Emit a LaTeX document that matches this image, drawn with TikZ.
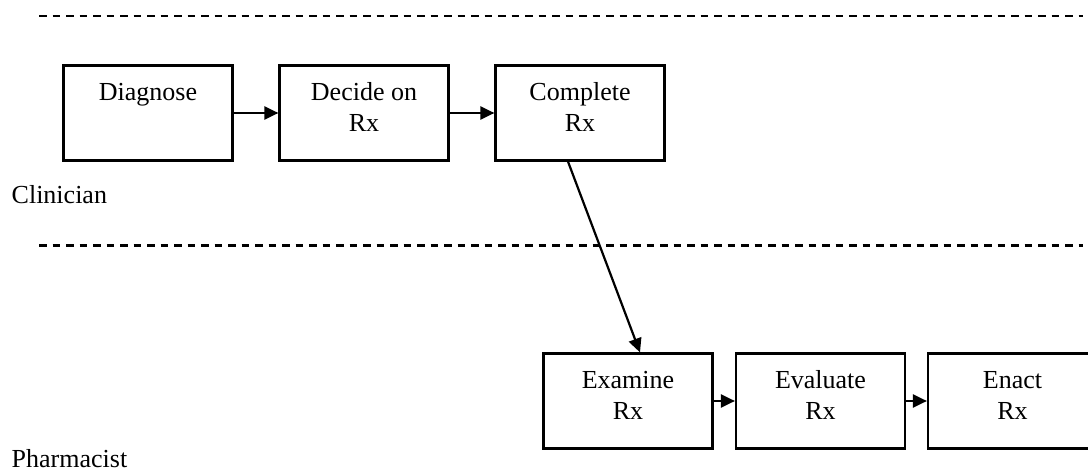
\documentclass[tikz,border=0pt]{standalone}
\usepackage{fontspec}
\setmainfont{Liberation Serif}
\usetikzlibrary{arrows.meta}
% fixed height for the first text line in every step box
\newcommand\stepstrut{\rule{0pt}{18pt}}
\begin{document}
\begin{tikzpicture}[x=1pt,y=-1pt,
  stepbox/.style={draw, line width=2.2pt, minimum width=169pt, minimum height=95pt, inner sep=0pt},
  steptext/.style={anchor=north, inner sep=0pt, align=center, font=\fontsize{26}{31}\selectfont},
  lanelabel/.style={anchor=base west, inner sep=0pt, font=\fontsize{26}{31}\selectfont},
  lane/.style={line width=2.2pt, dash pattern=on 7.5pt off 6pt},
  flow/.style={line width=2.2pt, -{Triangle[length=14pt,width=13pt]}}]
\useasboundingbox (0,0) rectangle (1088,468);
\clip (0,0) rectangle (1088,468);

% swimlane separators
\coordinate (topL) at (39,16);
\coordinate (topR) at (1083,16);
\coordinate (midL) at (39,245.5);
\coordinate (midR) at (1083,245.5);
\draw[lane] (topL) -- (topR);
\draw[lane] (midL) -- (midR);

% lane names
\node[lanelabel] (clin) at (11.5,204) {Clinician};
\node[lanelabel] (pharm) at (11.5,467) {Pharmacist};

% clinician steps
\node[stepbox] (diag) at (148,113) {};
\node[stepbox] (decide) at (364,113) {};
\node[stepbox] (comp) at (580,113) {};
\node[steptext] (diagT) at ([yshift=-18pt]diag.north) {\stepstrut Diagnose};
\node[steptext] (decideT) at ([yshift=-18pt]decide.north) {\stepstrut Decide on\\Rx};
\node[steptext] (compT) at ([yshift=-18pt]comp.north) {\stepstrut Complete\\Rx};

% pharmacist steps
\node[stepbox] (exam) at (628,401) {};
\node[stepbox] (eval) at (820.5,401) {};
\node[stepbox] (enact) at (1012.5,401) {};
\node[steptext] (examT) at ([yshift=-18pt]exam.north) {\stepstrut Examine\\Rx};
\node[steptext] (evalT) at ([yshift=-18pt]eval.north) {\stepstrut Evaluate\\Rx};
\node[steptext] (enactT) at ([yshift=-18pt]enact.north) {\stepstrut Enact\\Rx};

% flow
\draw[flow] (diag.east) -- (decide.west);
\draw[flow] (decide.east) -- (comp.west);
\draw[flow] ([xshift=-12pt]comp.south) -- ([xshift=12pt]exam.north);
\draw[flow] (exam.east) -- (eval.west);
\draw[flow] (eval.east) -- (enact.west);
\end{tikzpicture}
\end{document}
